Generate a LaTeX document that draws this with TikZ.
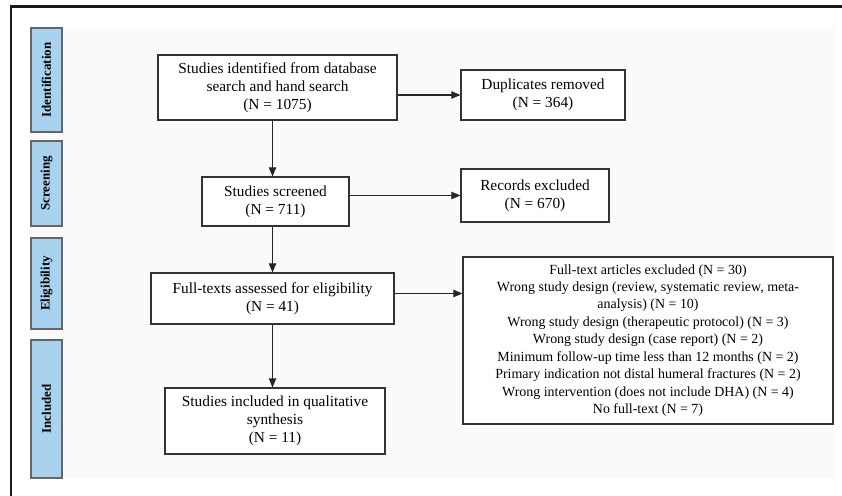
\documentclass[tikz,border=0pt]{standalone}
\usepackage{fontspec}
\setmainfont{Liberation Serif}
\usepackage{tikz}
\usetikzlibrary{arrows,shapes}
\definecolor{phaseblue}{HTML}{A9D2EE}
\definecolor{paper}{HTML}{FAFAFA}

\begin{document}
\begin{tikzpicture}[
  box/.style={draw=black!80,line width=1.2bp,fill=white,align=center,inner sep=2bp,
    font=\fontsize{15.4}{18}\selectfont},
  phase/.style={draw=black!60,line width=1.2bp,fill=phaseblue,rotate=90,inner sep=0pt,
    minimum height=31bp,font=\fontsize{13}{14}\selectfont\bfseries},
  flow/.style={-triangle 45,line width=1.1bp,draw=black!85}]
\useasboundingbox (0bp,0bp) rectangle (842bp,-496bp);
\fill[white] (0bp,0bp) rectangle (842bp,-496bp);
\fill[paper] (31bp,-28bp) rectangle (834bp,-478bp);
\draw[line width=2.5bp,black!90] (842bp,-6.5bp) -- (11bp,-6.5bp) -- (11bp,-496bp);

% phases
\node (pId) at (46.5bp,-80bp)[phase,minimum width=104bp] {Identification};
\node (pSc) at (46.5bp,-183.5bp)[phase,minimum width=85bp] {Screening};
\node (pEl) at (46.5bp,-283.5bp)[phase,minimum width=91bp] {Eligibility};
\node (pIn) at (46.5bp,-409bp)[phase,minimum width=138bp] {Included};

% flow boxes
\node (ident) at (277.5bp,-87.5bp)[box,minimum width=239bp,minimum height=65bp] {Studies identified from database\\search and hand search\\(N = 1075)};
\node (dupl) at (543bp,-95bp)[box,minimum width=164bp,minimum height=50bp] {Duplicates removed\\(N = 364)};
\node (screen) at (275.5bp,-201.5bp)[box,minimum width=147bp,minimum height=49bp] {Studies screened\\(N = 711)};
\node (recex) at (535bp,-195.5bp)[box,minimum width=148bp,minimum height=53bp] {Records excluded\\(N = 670)};
\node (full) at (272.5bp,-298.5bp)[box,minimum width=243bp,minimum height=51bp] {Full-texts assessed for eligibility\\(N = 41)};
\node (fullex) at (648bp,-340.5bp)[box,minimum width=370bp,minimum height=167bp,font=\fontsize{14}{17.5}\selectfont] {Full-text articles excluded (N = 30)\\Wrong study design (review, systematic review, meta-\\analysis) (N = 10)\\Wrong study design (therapeutic protocol) (N = 3)\\Wrong study design (case report) (N = 2)\\Minimum follow-up time less than 12 months (N = 2)\\Primary indication not distal humeral fractures (N = 2)\\Wrong intervention (does not include DHA) (N = 4)\\No full-text (N = 7)};
\node (incl) at (275bp,-421bp)[box,minimum width=220bp,minimum height=66bp] {Studies included in qualitative\\synthesis\\(N = 11)};

\draw [flow] (ident.east |- dupl.west) -- (dupl.west);
\draw [flow] (screen.east |- recex.west) -- (recex.west);
\draw [flow] ([yshift=5bp]full.east) -- ([yshift=5bp]full.east -| fullex.west);
\draw [flow] (ident.south -| full.center) -- (screen.north -| full.center);
\draw [flow] (screen.south -| full.center) -- (full.north);
\draw [flow] (full.south) -- (incl.north -| full.center);
\end{tikzpicture}
\end{document}
